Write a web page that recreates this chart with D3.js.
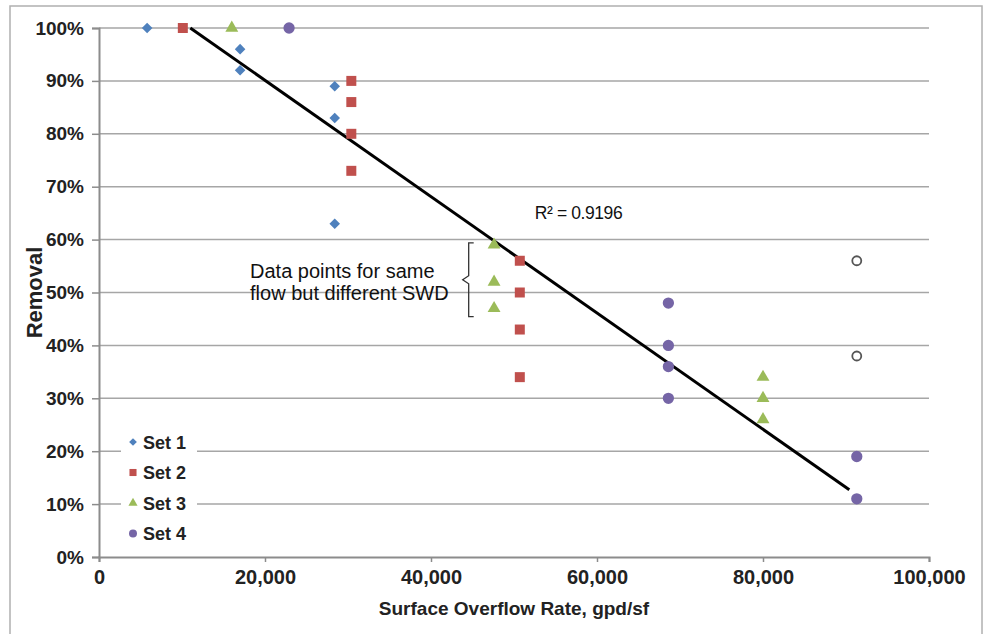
<!DOCTYPE html>
<html><head><meta charset="utf-8">
<script src="https://cdn.jsdelivr.net/npm/d3@7"></script>
<style>body{margin:0;background:#fff}svg{display:block}text{font-family:"Liberation Sans",Arial,sans-serif}</style>
</head><body><svg id="c" width="987" height="634"></svg>
<script>
const set1 = [[5800,1.00],[17000,0.96],[17000,0.92],[28400,0.89],[28400,0.83],[28400,0.63]];
const set2 = [[10100,1.00],[30400,0.90],[30400,0.86],[30400,0.80],[30400,0.73],[50700,0.56],[50700,0.50],[50700,0.43],[50700,0.34]];
const set3 = [[16000,1.00],[47600,0.59],[47600,0.52],[47600,0.47],[80000,0.34],[80000,0.30],[80000,0.26]];
const set4 = [[22900,1.00],[68600,0.48],[68600,0.40],[68600,0.36],[68600,0.30],[91300,0.19],[91300,0.11]];
const openPts = [[91300,0.56],[91300,0.38]];
const trend = [[11000,1.00],[90400,0.127]];
const xTicks = [0,20000,40000,60000,80000,100000];
const yTicks = [0,0.1,0.2,0.3,0.4,0.5,0.6,0.7,0.8,0.9,1.0];
const seriesNames = ["Set 1","Set 2","Set 3","Set 4"];
const colors = ["#4f81bd","#c0504d","#9bbb59","#7565a6"];
const r2Label = "R² = 0.9196";
const noteLines = ["Data points for same","flow but different SWD"];

const svg = d3.select("#c");
const M = {l:99, r:929, t:28, b:557};
const x = d3.scaleLinear().domain([0,100000]).range([M.l,M.r]);
const y = d3.scaleLinear().domain([0,1]).range([M.b,M.t]);

// outer frame
svg.append("rect").attr("x",10).attr("y",6).attr("width",972).attr("height",640)
  .attr("fill","none").attr("stroke","#b0b0b0").attr("stroke-width",1.5);

// gridlines
svg.append("g").selectAll("line").data(yTicks.filter(d=>d>0)).join("line")
  .attr("x1",M.l).attr("x2",M.r).attr("y1",d=>y(d)).attr("y2",d=>y(d))
  .attr("stroke","#a6a6a6").attr("stroke-width",1.5);

// axes
const yAxis = d3.axisLeft(y).tickValues(yTicks).tickFormat(d3.format(".0%")).tickSize(7).tickPadding(8);
const gy = svg.append("g").attr("transform",`translate(${M.l},0)`).call(yAxis);
const xAxis = d3.axisBottom(x).tickValues(xTicks).tickFormat(d=>d3.format(",")(d)).tickSize(5).tickPadding(8);
const gx = svg.append("g").attr("transform",`translate(0,${M.b})`).call(xAxis);
[gx,gy].forEach(g=>{
  g.select(".domain").attr("stroke","#8c8c8c").attr("stroke-width",2);
  g.selectAll(".tick line").attr("stroke","#8c8c8c").attr("stroke-width",1.5);
  g.selectAll(".tick text").attr("font-family","Liberation Sans, Arial, sans-serif")
    .attr("font-weight","bold").attr("fill","#222");
});
gy.selectAll(".tick text").attr("font-size",19);
gx.selectAll(".tick text").attr("font-size",20);

// axis titles
svg.append("text").attr("x",(M.l+M.r)/2).attr("y",615).attr("text-anchor","middle")
  .attr("font-weight","bold").attr("font-size",19).attr("fill","#222").text("Surface Overflow Rate, gpd/sf");
svg.append("text").attr("transform",`translate(42,${(M.t+M.b)/2}) rotate(-90)`).attr("text-anchor","middle")
  .attr("font-weight","bold").attr("font-size",22).attr("fill","#222").text("Removal");

// trendline
svg.append("line").attr("x1",x(trend[0][0])).attr("y1",y(trend[0][1]))
  .attr("x2",x(trend[1][0])).attr("y2",y(trend[1][1]))
  .attr("stroke","#000").attr("stroke-width",3);

// markers
const diamond = {draw(ctx,size){const s=Math.sqrt(size/2);ctx.moveTo(0,-s);ctx.lineTo(s,0);ctx.lineTo(0,s);ctx.lineTo(-s,0);ctx.closePath();}};
const shapes = [diamond, d3.symbolSquare, d3.symbolTriangle, d3.symbolCircle];
const sizes = [56, 100, 72, 100];
const sets = [set1,set2,set3,set4];
sets.forEach((data,i)=>{
  svg.append("g").selectAll("path").data(data).join("path")
    .attr("transform",d=>`translate(${x(d[0])},${y(d[1])})`)
    .attr("d",d3.symbol(shapes[i],sizes[i])).attr("fill",colors[i]);
});
svg.append("g").selectAll("circle").data(openPts).join("circle")
  .attr("cx",d=>x(d[0])).attr("cy",d=>y(d[1])).attr("r",4.5)
  .attr("fill","#fff").attr("stroke","#555").attr("stroke-width",1.8);

// R2 label
svg.append("text").attr("x",x(52500)).attr("y",y(0.6)-21).attr("font-size",17.5)
  .attr("letter-spacing",-0.4).attr("fill","#111").text(r2Label);

// annotation
const nt = svg.append("text").attr("font-size",20).attr("fill","#111");
noteLines.forEach((t,i)=>nt.append("tspan").attr("x",x(18200)).attr("y",y(0.5)-15+i*22).text(t));
const bx = x(44300), by0 = y(0.59)-2, by1 = y(0.46)+3, bm = (by0+by1)/2;
svg.append("path").attr("d",`M${bx+7},${by0} L${bx+2},${by0} L${bx+2},${bm-4} L${bx-4},${bm} L${bx+2},${bm+4} L${bx+2},${by1} L${bx+7},${by1}`)
  .attr("fill","none").attr("stroke","#333").attr("stroke-width",1.3);

// legend
const lg = svg.append("g");
lg.append("rect").attr("x",121).attr("y",426).attr("width",76).attr("height",122).attr("fill","#fff");
seriesNames.forEach((n,i)=>{
  const ly = 442 + i*30.5;
  lg.append("path").attr("transform",`translate(133,${ly})`).attr("d",d3.symbol(shapes[i],i===0?30:i===2?36:50)).attr("fill",colors[i]);
  lg.append("text").attr("x",143).attr("y",ly+6.5).attr("font-weight","bold").attr("font-size",18).attr("fill","#222").text(n);
});
</script></body></html>
